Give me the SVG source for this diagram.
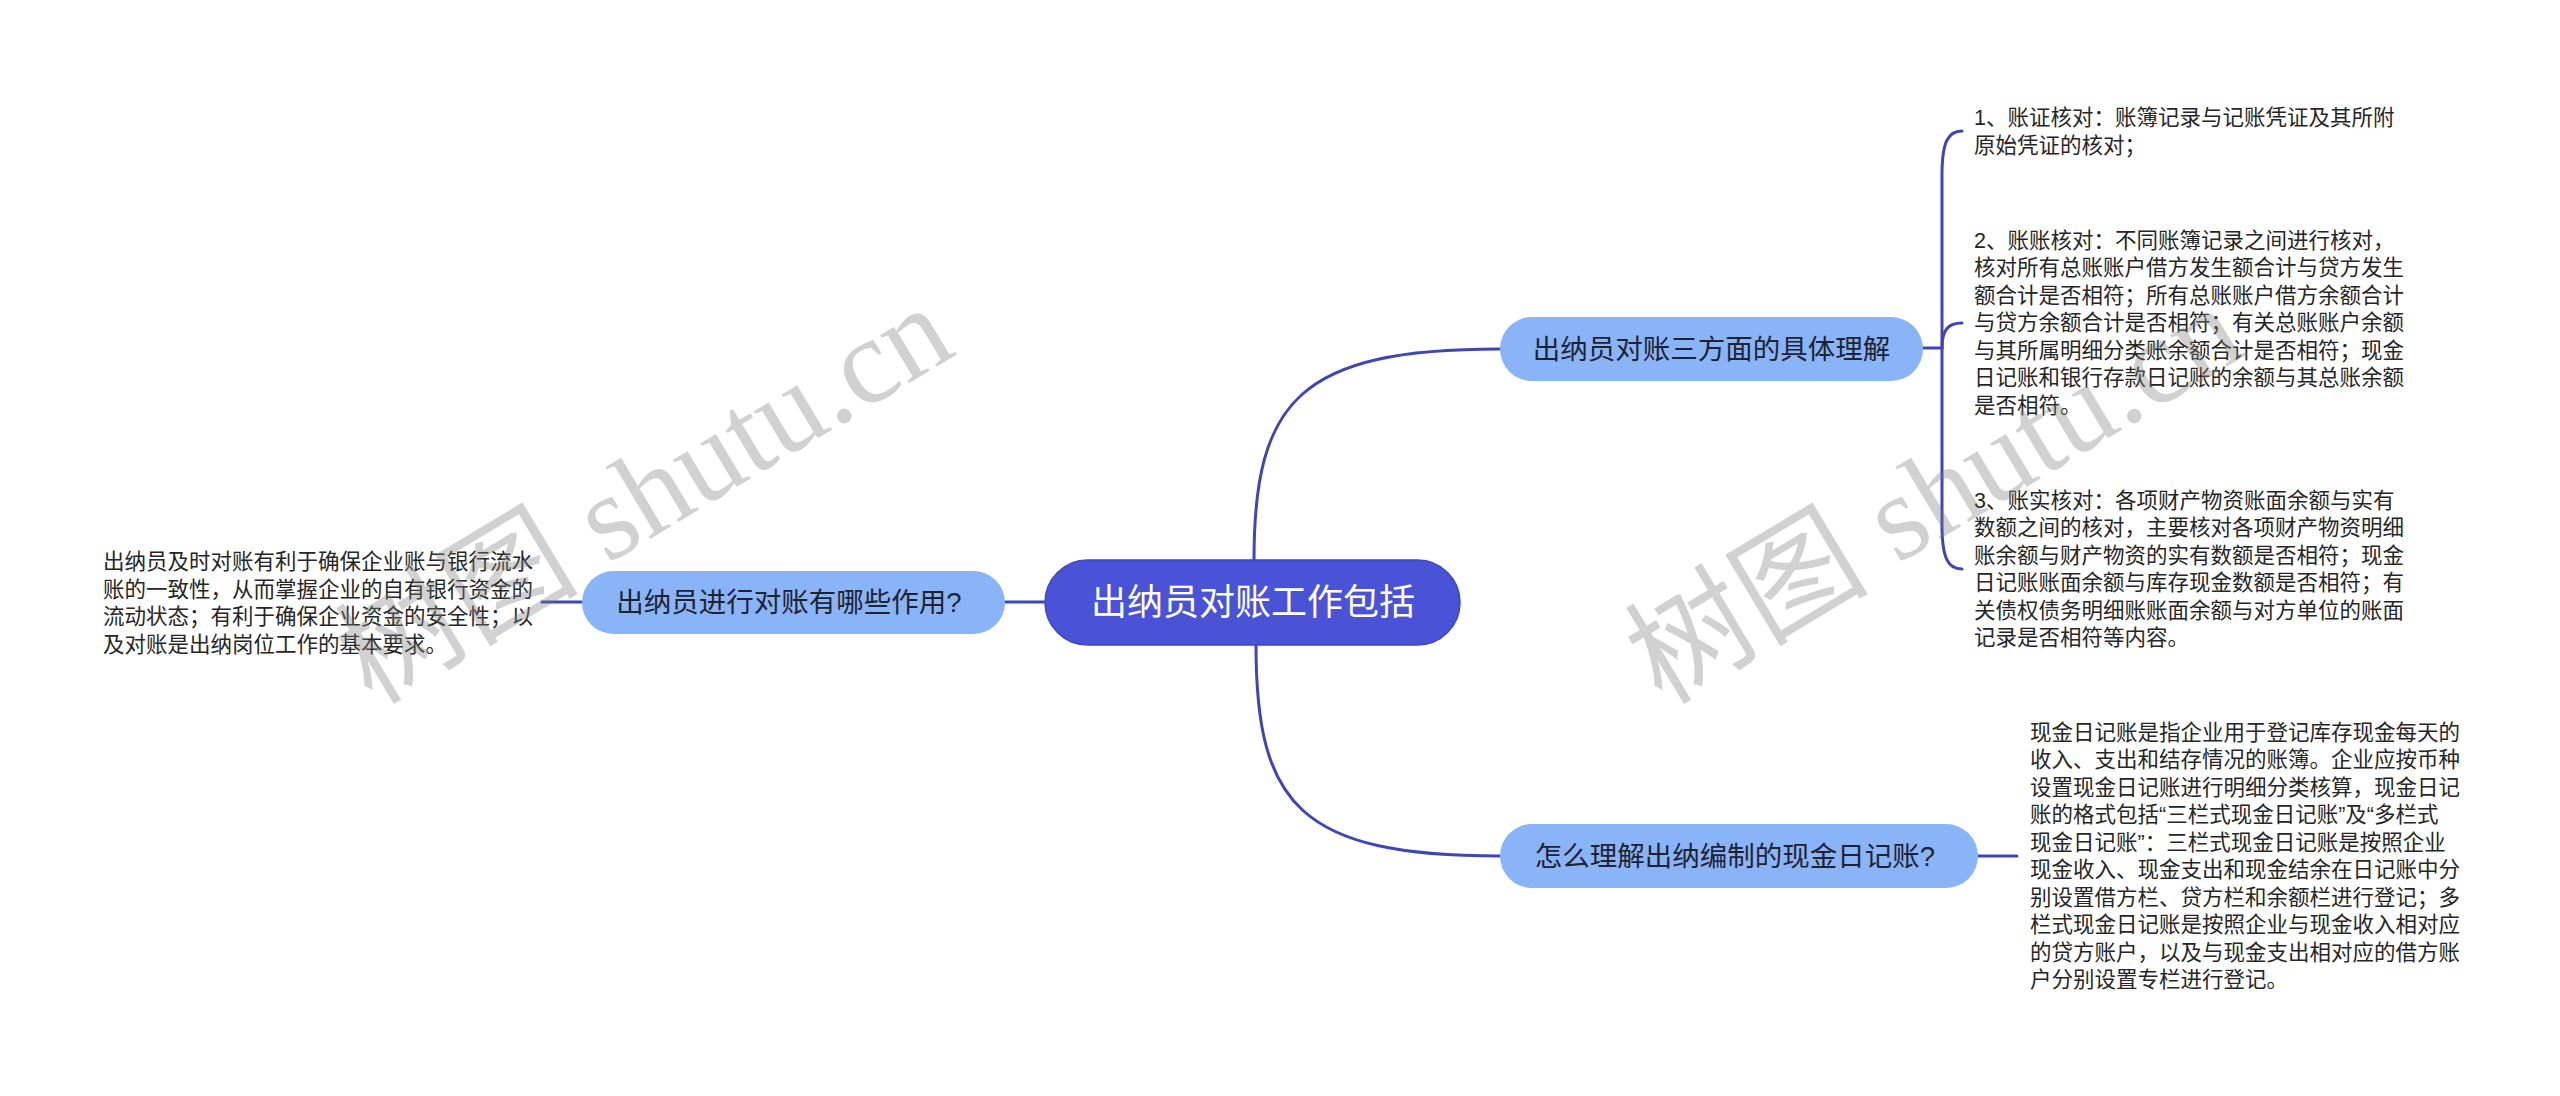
<svg xmlns="http://www.w3.org/2000/svg" width="2560" height="1096" viewBox="0 0 2560 1096">
<style>
.t{font-family:"Liberation Sans","Noto Sans CJK SC",sans-serif}
.leaf{font-size:21.5px;fill:#262626}
.l1{font-size:27.5px;fill:#1f2230;text-anchor:middle}
.root{font-size:36px;fill:#ffffff;text-anchor:middle}
.n1{fill:#8ab4f8}
.c{fill:none;stroke:#3d46b6;stroke-width:3;stroke-linecap:round}
.wm{font-family:"Liberation Serif","Noto Sans CJK SC",serif;font-size:122px;fill:#808080;fill-opacity:0.36}
</style>
<rect width="2560" height="1096" fill="#ffffff"/>
<g id="connectors">
<path class="c" d="M1254 560 C1254 400 1300 349 1500 349"/>
<path class="c" d="M1256 645 C1256 805 1300 856 1500 856"/>
<path class="c" d="M1045 602 L1005 602"/>
<path class="c" d="M582 602 L542 602"/>
<path class="c" d="M1923 348 L1942 348"/>
<path class="c" d="M1942 348 L1942 175 C1942 142 1948 131 1962 131"/>
<path class="c" d="M1942 348 C1942 330 1948 323 1962 323"/>
<path class="c" d="M1942 348 L1942 525 C1942 558 1948 569 1962 569"/>
<path class="c" d="M1978 856 L2017 856"/>
</g>
<g id="root">
<rect x="1045" y="560" width="415" height="85" rx="42.5" fill="#4a53d6" stroke="#3f47c4" stroke-width="1.5"/>
<text class="t root" x="1253" y="615">出纳员对账工作包括</text>
</g>
<g id="node-left">
<rect class="n1" x="582" y="571" width="423" height="63" rx="31.5"/>
<text class="t l1" x="789" y="612">出纳员进行对账有哪些作用?</text>
</g>
<g id="leaf-left">
<text class="t leaf" x="103">
<tspan x="103" y="569">出纳员及时对账有利于确保企业账与银行流水</tspan>
<tspan x="103" y="596.5">账的一致性，从而掌握企业的自有银行资金的</tspan>
<tspan x="103" y="624">流动状态；有利于确保企业资金的安全性；以</tspan>
<tspan x="103" y="651.5">及对账是出纳岗位工作的基本要求。</tspan>
</text>
</g>
<g id="node-r1">
<rect class="n1" x="1500" y="317" width="423" height="64" rx="32"/>
<text class="t l1" x="1711.5" y="359">出纳员对账三方面的具体理解</text>
</g>
<g id="item-1">
<text class="t leaf">
<tspan x="1974" y="125">1、账证核对：账簿记录与记账凭证及其所附</tspan>
<tspan x="1974" y="152.5">原始凭证的核对；</tspan>
</text>
</g>
<g id="item-2">
<text class="t leaf">
<tspan x="1974" y="247.5">2、账账核对：不同账簿记录之间进行核对，</tspan>
<tspan x="1974" y="275">核对所有总账账户借方发生额合计与贷方发生</tspan>
<tspan x="1974" y="302.5">额合计是否相符；所有总账账户借方余额合计</tspan>
<tspan x="1974" y="330">与贷方余额合计是否相符；有关总账账户余额</tspan>
<tspan x="1974" y="357.5">与其所属明细分类账余额合计是否相符；现金</tspan>
<tspan x="1974" y="385">日记账和银行存款日记账的余额与其总账余额</tspan>
<tspan x="1974" y="412.5">是否相符。</tspan>
</text>
</g>
<g id="item-3">
<text class="t leaf">
<tspan x="1974" y="507.5">3、账实核对：各项财产物资账面余额与实有</tspan>
<tspan x="1974" y="535">数额之间的核对，主要核对各项财产物资明细</tspan>
<tspan x="1974" y="562.5">账余额与财产物资的实有数额是否相符；现金</tspan>
<tspan x="1974" y="590">日记账账面余额与库存现金数额是否相符；有</tspan>
<tspan x="1974" y="617.5">关债权债务明细账账面余额与对方单位的账面</tspan>
<tspan x="1974" y="645">记录是否相符等内容。</tspan>
</text>
</g>
<g id="node-r2">
<rect class="n1" x="1500" y="824" width="478" height="64" rx="32"/>
<text class="t l1" x="1735" y="866">怎么理解出纳编制的现金日记账?</text>
</g>
<g id="item-4">
<text class="t leaf">
<tspan x="2030" y="739.5">现金日记账是指企业用于登记库存现金每天的</tspan>
<tspan x="2030" y="767">收入、支出和结存情况的账簿。企业应按币种</tspan>
<tspan x="2030" y="794.5">设置现金日记账进行明细分类核算，现金日记</tspan>
<tspan x="2030" y="822">账的格式包括“三栏式现金日记账”及“多栏式</tspan>
<tspan x="2030" y="849.5">现金日记账”：三栏式现金日记账是按照企业</tspan>
<tspan x="2030" y="877">现金收入、现金支出和现金结余在日记账中分</tspan>
<tspan x="2030" y="904.5">别设置借方栏、贷方栏和余额栏进行登记；多</tspan>
<tspan x="2030" y="932">栏式现金日记账是按照企业与现金收入相对应</tspan>
<tspan x="2030" y="959.5">的贷方账户，以及与现金支出相对应的借方账</tspan>
<tspan x="2030" y="987">户分别设置专栏进行登记。</tspan>
</text>
</g>
<g id="watermarks">
<text class="wm" transform="translate(372 706) rotate(-31)">树图 shutu.cn</text>
<text class="wm" transform="translate(1662 706) rotate(-31)">树图 shutu.cn</text>
</g>
</svg>
